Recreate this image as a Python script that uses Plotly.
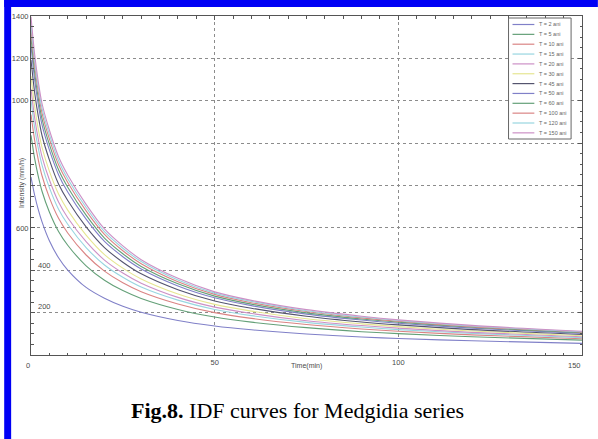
import plotly.graph_objects as go

# ---------------- data ----------------
time_min = [0, 1, 2, 3, 5, 7.5, 10, 15, 20, 25, 30, 40, 50, 60, 75, 90, 100, 120, 150]

i_T2 = [840, 754, 685, 628, 539, 459, 401, 319, 268, 230, 202, 163, 137, 119, 99, 85, 78, 67, 55]
i_T5 = [1037, 927, 842, 773, 675, 583, 518, 421, 353, 304, 267, 215, 179, 155, 129, 110, 101, 86, 70]
i_T10 = [1135, 1013, 920, 846, 743, 645, 576, 472, 396, 341, 299, 241, 200, 173, 144, 123, 112, 95, 77]
i_T15 = [1203, 1072, 974, 896, 790, 688, 617, 507, 425, 367, 321, 259, 215, 186, 154, 132, 120, 102, 82]
i_T20 = [1256, 1119, 1017, 936, 827, 722, 648, 535, 448, 387, 339, 272, 226, 196, 162, 139, 127, 107, 86]
i_T30 = [1316, 1172, 1064, 980, 868, 760, 684, 566, 474, 410, 359, 288, 239, 207, 171, 147, 134, 113, 91]
i_T45 = [1392, 1238, 1125, 1036, 921, 807, 729, 605, 507, 438, 383, 308, 255, 221, 183, 156, 142, 120, 97]
i_T50 = [1460, 1298, 1180, 1086, 968, 851, 769, 641, 536, 464, 406, 326, 270, 233, 193, 165, 150, 127, 102]
i_T60 = [1498, 1332, 1210, 1114, 994, 874, 792, 660, 552, 478, 418, 336, 278, 240, 199, 170, 155, 131, 105]
i_T100 = [1536, 1365, 1240, 1142, 1020, 898, 814, 680, 569, 492, 431, 346, 286, 247, 205, 175, 159, 134, 108]
i_T120 = [1566, 1391, 1264, 1164, 1041, 917, 832, 696, 582, 504, 441, 354, 292, 253, 209, 179, 163, 137, 110]
i_T150 = [1596, 1418, 1288, 1187, 1062, 936, 850, 711, 595, 515, 450, 362, 298, 258, 214, 183, 166, 140, 112]

series_names = ["T = 2 ani", "T = 5 ani", "T = 10 ani", "T = 15 ani", "T = 20 ani", "T = 30 ani",
                "T = 45 ani", "T = 50 ani", "T = 60 ani", "T = 100 ani", "T = 120 ani", "T = 150 ani"]
series_values = [i_T2, i_T5, i_T10, i_T15, i_T20, i_T30, i_T45, i_T50, i_T60, i_T100, i_T120, i_T150]

x_tick_vals = [0, 50, 100, 150]
x_tick_text = ["0", "50", "100", "150"]
y_tick_vals = [0, 200, 400, 600, 800, 1000, 1200, 1400, 1600]
y_tick_text = ["", "", "", "600", "", "", "1000", "1200", "1400"]
y_inner_labels = ["400", "200"]

# ---------------- style ----------------
W, H = 598, 439
ML, MR, MT, MB = 27, 16, 16, 84
PW, PH = W - ML - MR, H - MT - MB

def px(x):
    return (x - ML) / PW

def py(y):
    return (H - MB - y) / PH

colors = ["#8080c8", "#64a078", "#da8484", "#98d6e0", "#cc90c6", "#e6e692",
          "#54546e", "#8080c8", "#64a078", "#da8484", "#98d6e0", "#cc90c6"]
AX = "#555555"
TXT = "#4a4a4a"
SANS = "Liberation Sans, Arial, sans-serif"

fig = go.Figure()
for name, vals, col in zip(series_names, series_values, colors):
    fig.add_trace(go.Scatter(x=time_min, y=vals, mode="lines", name=name,
                             line=dict(color=col, width=1.1, shape="spline", smoothing=0.8),
                             showlegend=False))

shapes = []
annotations = []

# blue frame bars of the figure page
shapes.append(dict(type="rect", xref="paper", yref="paper", x0=px(0), x1=px(7), y0=py(439), y1=py(0),
                   fillcolor="#0000f5", line=dict(width=0), layer="above"))
shapes.append(dict(type="rect", xref="paper", yref="paper", x0=px(0), x1=px(598), y0=py(7), y1=py(0),
                   fillcolor="#0000f5", line=dict(width=0), layer="above"))

# manual legend (compact like the original)
lx0, lx1, ly0, ly1 = 508, 571, 18, 139
shapes.append(dict(type="rect", xref="paper", yref="paper", x0=px(lx0), x1=px(lx1), y0=py(ly1), y1=py(ly0),
                   fillcolor="white", line=dict(color="#666666", width=1), layer="above"))
for i, (name, col) in enumerate(zip(series_names, colors)):
    yy = 24.5 + i * 9.85
    shapes.append(dict(type="line", xref="paper", yref="paper", x0=px(512), x1=px(534), y0=py(yy), y1=py(yy),
                       line=dict(color=col, width=1.2), layer="above"))
    annotations.append(dict(x=px(537), y=py(yy), xref="paper", yref="paper", text=name, showarrow=False,
                            xanchor="left", yanchor="middle", font=dict(family=SANS, size=5.5, color="#666666")))

# tick labels placed like the original
annotations.append(dict(x=px(24), y=py(365), xref="paper", yref="paper", text=x_tick_text[0], showarrow=False,
                        xanchor="center", yanchor="middle", font=dict(family=SANS, size=7.5, color=TXT)))
annotations.append(dict(x=px(574), y=py(365), xref="paper", yref="paper", text=x_tick_text[3], showarrow=False,
                        xanchor="center", yanchor="middle", font=dict(family=SANS, size=7.5, color=TXT)))
annotations.append(dict(x=px(41), y=py(265), xref="paper", yref="paper", text=y_inner_labels[0], showarrow=False,
                        xanchor="center", yanchor="middle", font=dict(family=SANS, size=7.5, color=TXT)))
annotations.append(dict(x=px(41), y=py(306), xref="paper", yref="paper", text=y_inner_labels[1], showarrow=False,
                        xanchor="center", yanchor="middle", font=dict(family=SANS, size=7.5, color=TXT)))

# axis titles
annotations.append(dict(x=0.5, y=py(366), xref="paper", yref="paper", text="Time(min)", showarrow=False,
                        xanchor="center", yanchor="middle", font=dict(family=SANS, size=7, color=TXT)))
annotations.append(dict(x=px(18), y=py(183), xref="paper", yref="paper", text="Intensity (mm/h)", showarrow=False,
                        textangle=-90, xanchor="center", yanchor="middle", font=dict(family=SANS, size=7, color=TXT)))

# caption
annotations.append(dict(x=px(295), y=py(410), xref="paper", yref="paper",
                        text="<b>Fig.8.</b> IDF curves for Medgidia series", showarrow=False,
                        xanchor="center", yanchor="middle",
                        font=dict(family="Liberation Serif, Times New Roman, serif", size=22, color="#000000")))

GRID = "#8c8c8c"
fig.update_layout(
    width=W, height=H,
    margin=dict(l=ML, r=MR, t=MT, b=MB),
    paper_bgcolor="white", plot_bgcolor="white",
    shapes=shapes, annotations=annotations,
    showlegend=False,
    xaxis=dict(range=[0, 150], tickvals=x_tick_vals, ticktext=["", x_tick_text[1], x_tick_text[2], ""],
               showline=True, linecolor=AX, linewidth=1, mirror="ticks",
               ticks="inside", ticklen=4, tickcolor=AX,
               minor=dict(dtick=5, ticks="inside", ticklen=2.5, tickcolor=AX, showgrid=False),
               showgrid=True, gridcolor=GRID, griddash="dot", gridwidth=1,
               zeroline=False, tickfont=dict(family=SANS, size=7.5, color=TXT)),
    yaxis=dict(range=[0, 1600], tickvals=y_tick_vals, ticktext=y_tick_text,
               showline=True, linecolor=AX, linewidth=1, mirror="ticks",
               ticks="inside", ticklen=4, tickcolor=AX,
               minor=dict(dtick=50, ticks="inside", ticklen=2.5, tickcolor=AX, showgrid=False),
               showgrid=True, gridcolor=GRID, griddash="dot", gridwidth=1,
               zeroline=False, tickfont=dict(family=SANS, size=7.5, color=TXT)),
)

fig.write_html("out.html", config={"displayModeBar": False},
               post_script="document.body.style.margin='0';document.body.style.overflow='hidden';")
